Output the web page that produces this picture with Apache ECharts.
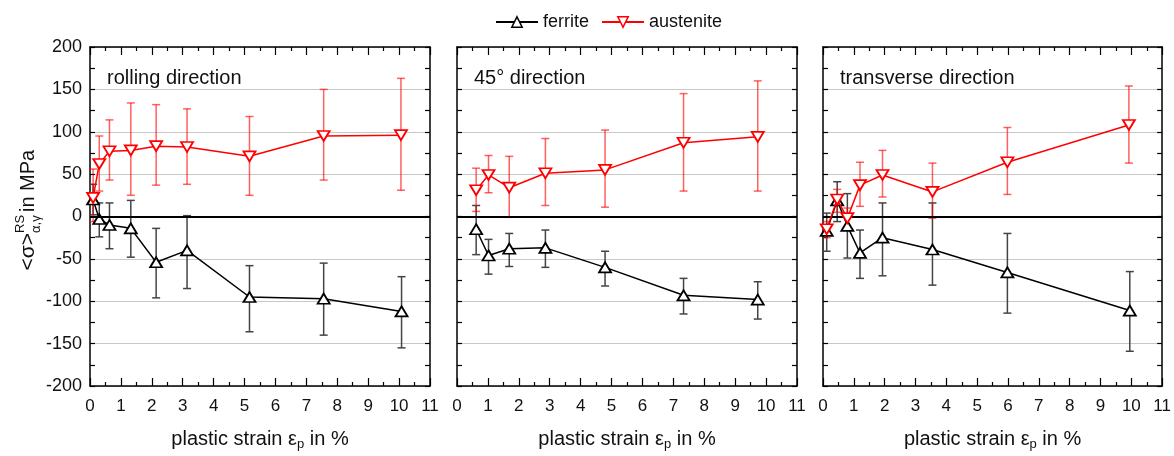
<!DOCTYPE html>
<html>
<head>
<meta charset="utf-8">
<script src="https://cdn.jsdelivr.net/npm/echarts@6/dist/echarts.min.js"></script>
<style>
    html, body {margin: 0; padding: 0; background: #fff;}
    #chart {width: 1174px; height: 456px;}
</style>
</head>
<body>
<div id="chart"></div>
<script>
// panel titles
var panelTitles = ['rolling direction', '45\u00b0 direction', 'transverse direction'];

// rolling direction
var rdFerStrain = [0.1, 0.3, 0.63, 1.32, 2.14, 3.14, 5.16, 7.56, 10.08];
var rdFer = [20, -3, -10, -14, -54, -40, -95, -97, -112];
var rdFerHi = [38, 16, 16, 19, -14, 1, -58, -55, -71];
var rdFerLo = [2, -24, -38, -48, -96, -85, -136, -140, -155];
var rdAusStrain = [0.1, 0.3, 0.63, 1.32, 2.14, 3.14, 5.16, 7.56, 10.06];
var rdAus = [22, 62, 77, 78, 83, 82, 71, 95, 96];
var rdAusHi = [56, 95, 114, 134, 132, 127, 118, 150, 163];
var rdAusLo = [-6, 30, 43, 25, 37, 38, 25, 43, 31];

// 45 deg direction
var ddFerStrain = [0.62, 1.02, 1.69, 2.86, 4.79, 7.33, 9.73];
var ddFer = [-15, -46, -38, -37, -60, -93, -98];
var ddFerHi = [13, -27, -20, -16, -41, -73, -77];
var ddFerLo = [-45, -68, -59, -60, -82, -115, -121];
var ddAusStrain = [0.62, 1.02, 1.69, 2.86, 4.79, 7.33, 9.73];
var ddAus = [31, 49, 34, 51, 55, 87, 94];
var ddAusHi = [57, 72, 71, 92, 102, 145, 160];
var ddAusLo = [6, 28, -1, 13, 11, 30, 30];

// transverse direction
var tdFerStrain = [0.12, 0.46, 0.79, 1.2, 1.93, 3.55, 5.98, 9.95];
var tdFer = [-17, 19, -11, -43, -25, -39, -66, -111];
var tdFerHi = [4, 41, 27, -16, 16, 16, -20, -65];
var tdFerLo = [-41, -6, -49, -73, -70, -81, -114, -159];
var tdAusStrain = [0.12, 0.46, 0.79, 1.2, 1.93, 3.55, 5.98, 9.92];
var tdAus = [-15, 20, -2, 37, 49, 29, 64, 108];
var tdAusHi = [-6, 32, 10, 64, 78, 63, 105, 154];
var tdAusLo = [-25, 5, -14, 12, 23, -2, 26, 63];

var xTicks = [0, 11, 1];
var yTicks = [-200, 200, 50];

var panels = [
    {fs: rdFerStrain, f: rdFer, fh: rdFerHi, fl: rdFerLo, as: rdAusStrain, a: rdAus, ah: rdAusHi, al: rdAusLo},
    {fs: ddFerStrain, f: ddFer, fh: ddFerHi, fl: ddFerLo, as: ddAusStrain, a: ddAus, ah: ddAusHi, al: ddAusLo},
    {fs: tdFerStrain, f: tdFer, fh: tdFerHi, fl: tdFerLo, as: tdAusStrain, a: tdAus, ah: tdAusHi, al: tdAusLo}
];

var gridLefts = [90, 457, 823];
var FONT = 'Liberation Sans, Arial, sans-serif';

function zip(xs, ys) {
    return xs.map(function (x, i) { return [x, ys[i]]; });
}

function zip3(xs, lo, hi) {
    return xs.map(function (x, i) { return [x, lo[i], hi[i]]; });
}

function makeErr(color) {
    return function (params, api) {
        var x = api.value(0);
        var top = api.coord([x, api.value(2)]);
        var bot = api.coord([x, api.value(1)]);
        var w = 4;
        var style = {stroke: color, lineWidth: 1.5};
        return {
            type: 'group',
            children: [
                {type: 'line', shape: {x1: top[0], y1: top[1], x2: bot[0], y2: bot[1]}, style: style},
                {type: 'line', shape: {x1: top[0] - w, y1: top[1], x2: top[0] + w, y2: top[1]}, style: style},
                {type: 'line', shape: {x1: bot[0] - w, y1: bot[1], x2: bot[0] + w, y2: bot[1]}, style: style}
            ]
        };
    };
}

var chart = echarts.init(document.getElementById('chart'), null, {renderer: 'canvas'});

var grids = [], xAxes = [], yAxes = [], series = [], titles = [];

panels.forEach(function (p, i) {
    grids.push({left: gridLefts[i], top: 47, width: 340, height: 339, containLabel: false});

    titles.push({
        text: panelTitles[i],
        left: gridLefts[i] + 17,
        top: 68,
        padding: 0,
        textStyle: {fontFamily: FONT, fontSize: 20, fontWeight: 'normal', color: '#111'}
    });

    var axLine = {show: true, onZero: false, lineStyle: {color: '#000', width: 1.5}};
    xAxes.push({
        type: 'value', gridIndex: i, position: 'bottom',
        min: xTicks[0], max: xTicks[1], interval: xTicks[2],
        axisLine: axLine,
        axisTick: {inside: true, length: 8, lineStyle: {color: '#000', width: 1.2}},
        minorTick: {show: true, splitNumber: 2, length: 4, lineStyle: {color: '#000', width: 1.2}},
        axisLabel: {fontFamily: FONT, fontSize: 17, color: '#111', margin: 12},
        splitLine: {show: false},
        name: 'plastic strain \u03b5{sub|p} in %',
        nameLocation: 'middle',
        nameGap: 41,
        nameTextStyle: {
            fontFamily: FONT, fontSize: 20, color: '#111',
            rich: {sub: {fontFamily: FONT, fontSize: 13, color: '#111', padding: [11, 0, 0, 0]}}
        }
    });
    xAxes.push({
        type: 'value', gridIndex: i, position: 'top',
        min: xTicks[0], max: xTicks[1], interval: xTicks[2],
        axisLine: axLine,
        axisTick: {inside: true, length: 8, lineStyle: {color: '#000', width: 1.2}},
        minorTick: {show: true, splitNumber: 2, length: 4, lineStyle: {color: '#000', width: 1.2}},
        axisLabel: {show: false},
        splitLine: {show: false}
    });
    yAxes.push({
        type: 'value', gridIndex: i, position: 'left',
        min: yTicks[0], max: yTicks[1], interval: yTicks[2],
        axisLine: axLine,
        axisTick: {inside: true, length: 5, lineStyle: {color: '#000', width: 1.2}},
        minorTick: {show: true, splitNumber: 2, length: 5, lineStyle: {color: '#000', width: 1.2}},
        axisLabel: {show: i === 0, fontFamily: FONT, fontSize: 18, color: '#111', margin: 8},
        splitLine: {show: true, lineStyle: {color: '#c8c8c8', width: 1}}
    });
    yAxes.push({
        type: 'value', gridIndex: i, position: 'right',
        min: yTicks[0], max: yTicks[1], interval: yTicks[2],
        axisLine: axLine,
        axisTick: {inside: true, length: 5, lineStyle: {color: '#000', width: 1.2}},
        minorTick: {show: true, splitNumber: 2, length: 5, lineStyle: {color: '#000', width: 1.2}},
        axisLabel: {show: false},
        splitLine: {show: false}
    });

    var xi = i * 2, yi = i * 2;
    series.push({
        type: 'custom', xAxisIndex: xi, yAxisIndex: yi, z: 2,
        renderItem: makeErr('#444'),
        encode: {x: 0, y: [1, 2]},
        data: zip3(p.fs, p.fl, p.fh),
        silent: true
    });
    series.push({
        type: 'custom', xAxisIndex: xi, yAxisIndex: yi, z: 2,
        renderItem: makeErr('rgba(255,0,0,0.62)'),
        encode: {x: 0, y: [1, 2]},
        data: zip3(p.as, p.al, p.ah),
        silent: true
    });
    series.push({
        name: 'ferrite', type: 'line', xAxisIndex: xi, yAxisIndex: yi, z: 4,
        data: zip(p.fs, p.f),
        symbol: 'triangle', symbolSize: [12, 10],
        lineStyle: {color: '#000', width: 1.5},
        itemStyle: {color: '#fff', borderColor: '#000', borderWidth: 1.8},
        markLine: {
            silent: true, symbol: 'none', label: {show: false},
            lineStyle: {color: '#000', width: 2, type: 'solid'},
            data: [{yAxis: 0}]
        }
    });
    series.push({
        name: 'austenite', type: 'line', xAxisIndex: xi, yAxisIndex: yi, z: 5,
        data: zip(p.as, p.a),
        symbol: 'triangle', symbolRotate: 180, symbolSize: [12, 10],
        lineStyle: {color: '#ff0000', width: 1.5},
        itemStyle: {color: '#fff', borderColor: '#ff0000', borderWidth: 1.8}
    });
});

var option = {
    animation: false,
    backgroundColor: '#fff',
    title: titles,
    legend: {
        data: [
            {name: 'ferrite', itemStyle: {color: '#fff', borderColor: '#000', borderWidth: 1.5}},
            {name: 'austenite', itemStyle: {color: '#fff', borderColor: '#ff0000', borderWidth: 1.5}}
        ],
        top: 8,
        left: 490,
        itemWidth: 42,
        itemHeight: 13,
        itemGap: 12,
        textStyle: {fontFamily: FONT, fontSize: 18, color: '#111'}
    },
    grid: grids,
    xAxis: xAxes,
    yAxis: yAxes,
    series: series,
    graphic: [{
        type: 'group',
        x: 28,
        y: 216,
        rotation: Math.PI / 2,
        children: [
            {type: 'text', x: -17, y: 0, style: {text: '<\u03c3>', fontFamily: FONT, fontSize: 21, fill: '#111', align: 'right', verticalAlign: 'middle'}},
            {type: 'text', x: -17, y: -8, style: {text: 'RS', fontFamily: FONT, fontSize: 13, fill: '#111', verticalAlign: 'middle'}},
            {type: 'text', x: -17, y: 8, style: {text: '\u03b1,\u03b3', fontFamily: FONT, fontSize: 13, fill: '#111', verticalAlign: 'middle'}},
            {type: 'text', x: 4, y: 0, style: {text: 'in MPa', fontFamily: FONT, fontSize: 20, fill: '#111', verticalAlign: 'middle'}}
        ]
    }]
};

chart.setOption(option);
</script>
</body>
</html>
